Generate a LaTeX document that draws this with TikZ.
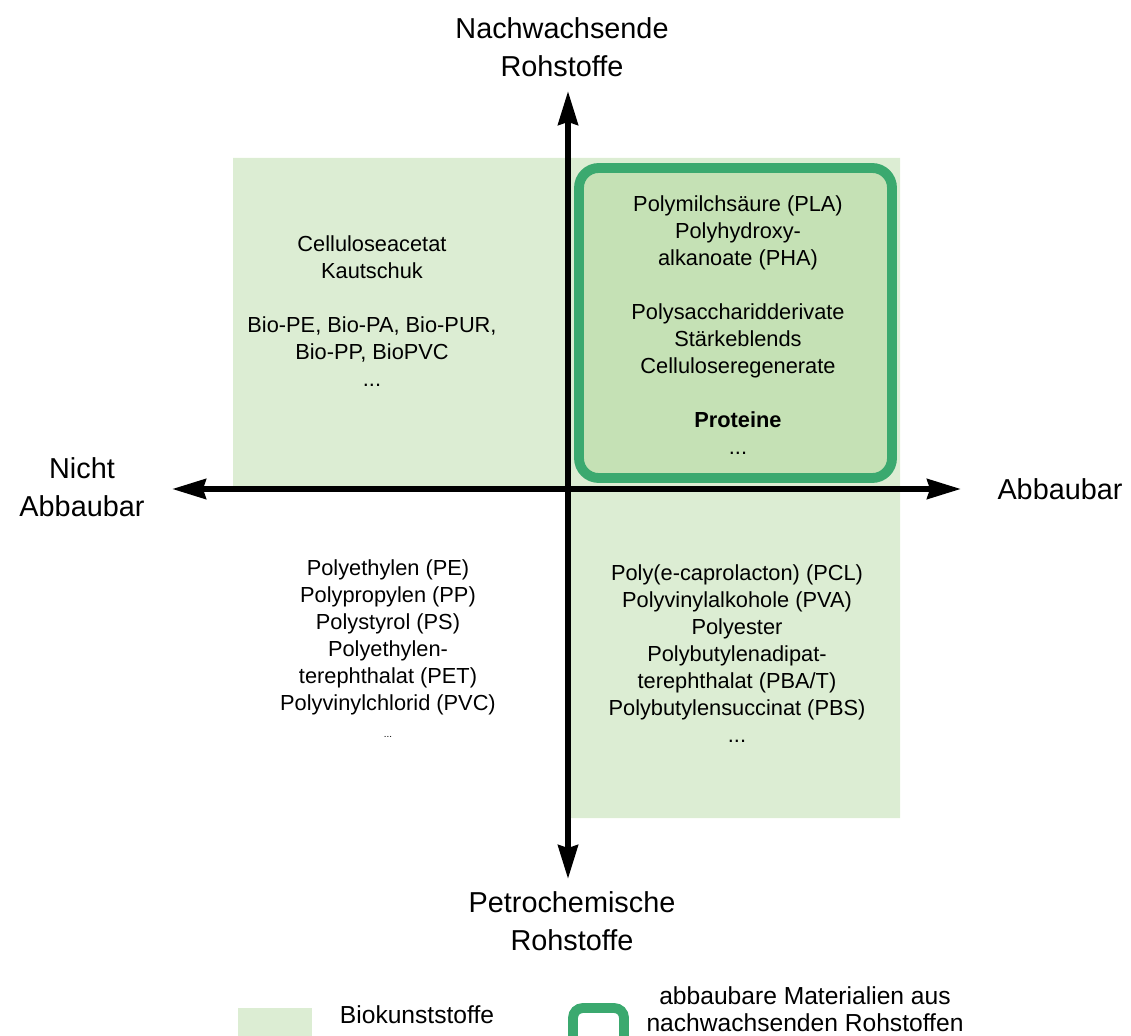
\documentclass[tikz,border=0pt]{standalone}
\usepackage{fontspec}
\setmainfont{Liberation Sans}
\usetikzlibrary{arrows.meta}

\definecolor{bioGreen}{HTML}{DCEDD3}
\definecolor{boxGreen}{HTML}{C5E1B5}
\definecolor{lineGreen}{HTML}{3BA96F}

\begin{document}
\begin{tikzpicture}[x=0.025cm,y=-0.025cm,
    axis/.style={line width=4.3pt,{Stealth[length=24pt,width=14pt,inset=2pt]}-{Stealth[length=24pt,width=14pt,inset=2pt]}},
    axislabel/.style={align=center,font=\fontsize{20.5}{27}\selectfont},
    item/.style={align=center,font=\fontsize{15.5}{19.2}\selectfont},
    legend/.style={align=center,font=\fontsize{17.5}{19.5}\selectfont}]
    \useasboundingbox (0,0) rectangle (1131,1036);
    \clip (0,0) rectangle (1131,1036);

    % Biokunststoffe
    \fill[bioGreen] (233,158) -- (900,158) -- (900,818) -- (570,818)
        -- (570,488) -- (233,488) -- cycle;
    \draw[lineGreen,line width=7pt,fill=boxGreen,rounded corners=14pt]
        (579,168) rectangle (892,478);

    % Achsen
    \coordinate (west)  at (172,489);
    \coordinate (east)  at (961,489);
    \coordinate (north) at (568,91);
    \coordinate (south) at (568,879);
    \draw[axis] (west) -- (east);
    \draw[axis] (north) -- (south);

    \node[axislabel] (ren)   at (562,47)  {Nachwachsende\\Rohstoffe};
    \node[axislabel] (petro) at (572,921) {Petrochemische\\Rohstoffe};
    \node[axislabel] (nbio)  at (82,487)  {Nicht\\Abbaubar};
    \node[axislabel] (bio)   at (1060,489) {Abbaubar};

    % Quadranten
    \node[item] (tl) at (372,311) {Celluloseacetat\\Kautschuk\\ \\
        Bio-PE, Bio-PA, Bio-PUR,\\Bio-PP, BioPVC\\...};
    \node[item] (tr) at (738,325) {Polymilchsäure (PLA)\\Polyhydroxy-\\alkanoate (PHA)\\ \\
        Polysaccharidderivate\\Stärkeblends\\Celluloseregenerate\\ \\
        \textbf{Proteine}\\...};
    \node[item] (bl) at (388,649) {Polyethylen (PE)\\Polypropylen (PP)\\Polystyrol (PS)\\
        Polyethylen-\\terephthalat (PET)\\Polyvinylchlorid (PVC)\\{\scriptsize...}};
    \node[item] (br) at (737,654) {Poly(e-caprolacton) (PCL)\\Polyvinylalkohole (PVA)\\Polyester\\
        Polybutylenadipat-\\terephthalat (PBA/T)\\Polybutylensuccinat (PBS)\\...};

    % Legende
    \fill[bioGreen] (238,1008) rectangle (312,1050);
    \node[legend] (lbio) at (417,1015) {Biokunststoffe};
    \draw[lineGreen,line width=7pt,rounded corners=7pt] (573,1008) rectangle (624,1050);
    \node[legend] (lren) at (805,1009) {abbaubare Materialien aus\\nachwachsenden Rohstoffen};
\end{tikzpicture}
\end{document}
